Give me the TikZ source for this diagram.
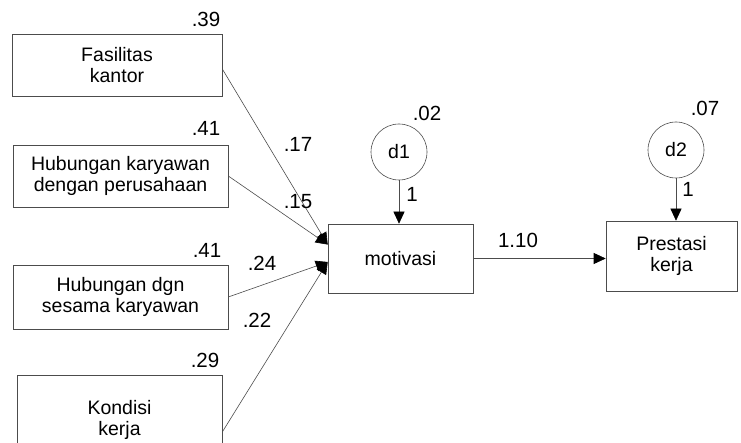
\documentclass[tikz,border=0pt]{standalone}
\usepackage{fontspec}
\setmainfont{Liberation Sans}
\usetikzlibrary{arrows.meta,calc}
\begin{document}
\begin{tikzpicture}[x=1pt,y=-1pt,
  box/.style={draw=black!70,line width=0.6pt,rectangle,inner sep=0pt,align=center,
    font=\fontsize{19.5}{21}\selectfont},
  err/.style={draw=black!70,line width=0.6pt,circle,inner sep=0pt,minimum size=56pt,
    font=\fontsize{19.5}{21}\selectfont},
  num/.style={inner sep=0pt,font=\fontsize{20.5}{22}\selectfont},
  arr/.style={draw=black!70,line width=0.6pt,-{Triangle[length=12pt,width=11pt,color=black]}}]
\useasboundingbox (0,0) rectangle (741,443);
% exogenous boxes
\node[box,minimum width=210pt,minimum height=62pt] (fas) at (117,65) {Fasilitas\\kantor};
\node[box,minimum width=215pt,minimum height=62pt] (hk) at (120.5,176) {Hubungan karyawan\\dengan perusahaan};
\node[box,minimum width=215pt,minimum height=64pt] (hd) at (120.5,297) {Hubungan dgn\\sesama karyawan};
\node[box,minimum width=205pt,minimum height=90pt] (ko) at (119.5,420) {Kondisi\\kerja};
% endogenous boxes
\node[box,minimum width=145pt,minimum height=69pt] (mot) at (400.5,258.5) {motivasi};
\node[box,minimum width=131pt,minimum height=70pt] (pk) at (671.5,256) {Prestasi\\kerja};
% error terms
\node[err] (d1) at (399,152) {d1};
\node[err] (d2) at (676,150) {d2};
% variances
\node[num] (v1) at (206,19) {.39};
\node[num] (v2) at (206,128) {.41};
\node[num] (v3) at (207,250) {.41};
\node[num] (v4) at (205,360) {.29};
\node[num] (v5) at (427,113) {.02};
\node[num] (v6) at (705,108) {.07};
% coordinates on motivasi
\coordinate (mtop) at ($(mot.north west)!0.3!(mot.south west)$);
\coordinate (mbot) at ($(mot.north west)!0.55!(mot.south west)$);
% paths
\draw[arr] ([yshift=-4pt]fas.east) -- (mtop);
\draw[arr] (hk.east) -- (mtop);
\draw[arr] (hd.east) -- (mbot);
\draw[arr] ([yshift=-12pt]ko.east) -- (mbot);
\draw[arr] (mot.east) -- (mot.east -| pk.west);
\draw[arr] (d1.south) -- (d1.south |- mot.north);
\draw[arr] (d2.south) -- (d2.south |- pk.north);
% path labels
\node[num] (c1) at (298,144) {.17};
\node[num] (c2) at (298,202) {.15};
\node[num] (c3) at (262,263) {.24};
\node[num] (c4) at (257,320) {.22};
\node[num] (c5) at (518,240) {1.10};
\node[num] (c6) at (412,194) {1};
\node[num] (c7) at (688,189) {1};
\end{tikzpicture}
\end{document}
